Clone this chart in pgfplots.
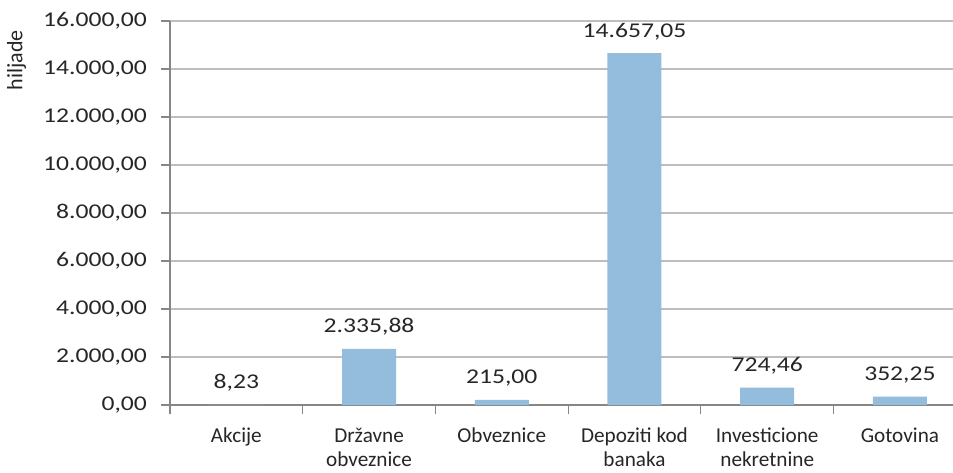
\documentclass[border=0pt]{standalone}
\usepackage{fontspec}
\setmainfont{Carlito}
\newfontfamily\numfont{Carlito}[FakeStretch=1.22]
\usepackage{pgfplots}
\pgfplotsset{compat=1.18}
\definecolor{barblue}{RGB}{147,188,221}
\definecolor{axisgray}{RGB}{134,134,134}
\definecolor{gridgray}{RGB}{190,190,190}
\definecolor{txt}{RGB}{38,38,38}

\begin{document}
\begin{tikzpicture}
\begin{axis}[
  scale only axis, width=391.5pt, height=192pt,
  xmin=-0.5, xmax=5.4, ymin=0, ymax=16000,
  axis x line*=bottom, axis y line*=left,
  axis line style={axisgray, line width=0.6pt},
  ytick={0,2000,...,16000},
  scaled y ticks=false,
  ymajorgrids, grid style={gridgray, line width=0.6pt},
  tick align=outside, major tick length=4.5pt,
  tick style={axisgray, line width=0.6pt},
  xtick={-0.5,0.5,...,4.5}, xticklabels={},
  extra x ticks={0,...,5},
  extra x tick labels={Akcije, Državne\\obveznice, Obveznice, Depoziti kod\\banaka, Investicione\\nekretnine, Gotovina},
  extra x tick style={major tick length=0pt},
  xticklabel style={font=\fontsize{10.6}{12}\selectfont, text=txt, align=center, anchor=north, yshift=-8pt},
  yticklabel style={font=\numfont\fontsize{10.5}{12}\selectfont, text=txt, xshift=-3.5pt},
  /pgf/number format/.cd, use comma, fixed, fixed zerofill, precision=2, assume math mode=true,
  /pgfplots/.cd,
  every axis y label/.style={at={(axis description cs:-0.196,0.898)}, rotate=90, anchor=center},
  ylabel={\fontsize{11}{12}\selectfont hiljade},
  ylabel style={text=txt},
  ybar, bar width=27pt,
  nodes near coords={\numfont\fontsize{10.5}{12}\selectfont\pgfmathprintnumber{\pgfplotspointmeta}},
  nodes near coords style={text=txt, anchor=base, yshift=8pt},
]
\addplot[fill=barblue, draw=none] coordinates {
  (0,8.23) (1,2335.88) (2,215.00) (3,14657.05) (4,724.46) (5,352.25)
};
\coordinate (O) at (rel axis cs:0,0);
\end{axis}
\pgfresetboundingbox
\path[use as bounding box] (O) ++(-85pt,-33.5pt) rectangle ++(476.5pt,236pt);
\end{tikzpicture}
\end{document}
